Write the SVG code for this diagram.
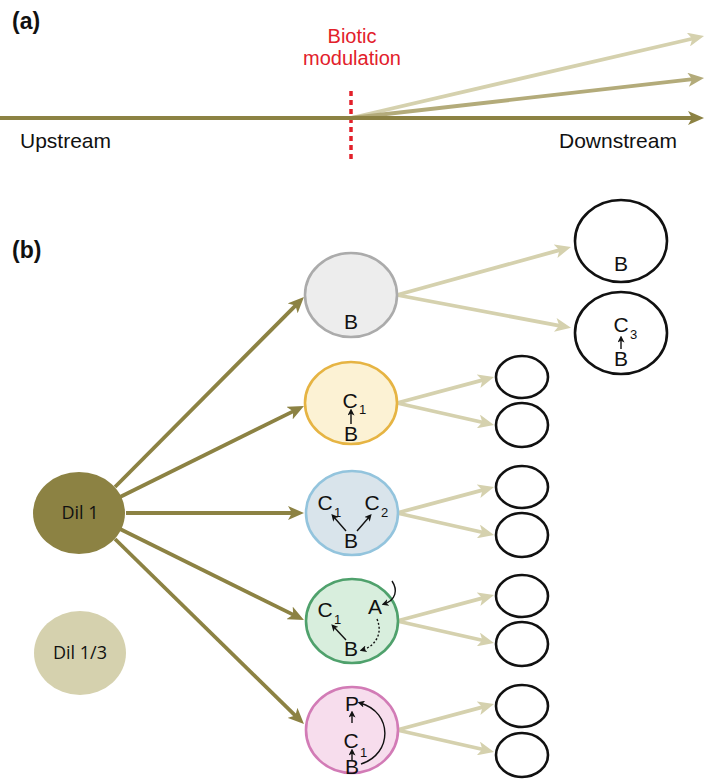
<svg xmlns="http://www.w3.org/2000/svg" width="709" height="780" viewBox="0 0 709 780">
<defs>
<style>
.lbl{font-family:"Liberation Sans",Arial,sans-serif;font-size:21px;fill:#111}
.pl{font-family:"Liberation Sans",Arial,sans-serif;font-size:23px;font-weight:bold;fill:#111}
.red{font-family:"Liberation Sans",Arial,sans-serif;font-size:20px;fill:#e2202a;text-anchor:middle}
.dil{font-family:"Open Sans","Noto Sans",sans-serif;font-size:18px;fill:#111;text-anchor:middle}
.l{font-family:"Liberation Sans",Arial,sans-serif;font-size:21px;fill:#111;text-anchor:middle}
.s{font-family:"Liberation Sans",Arial,sans-serif;font-size:13px;fill:#111}
.dk{stroke:#8c8243;stroke-width:3.8;fill:none}
.lt{stroke:#d5d1ae;stroke-width:3.8;fill:none}
.md{stroke:#b3ab7a;stroke-width:3.8;fill:none}
.ia{stroke:#111;stroke-width:1.4;fill:none}
.big{fill:#fff;stroke:#111;stroke-width:2.6}
</style>
<marker id="ahd" markerUnits="userSpaceOnUse" markerWidth="16" markerHeight="14" viewBox="0 0 16 14" refX="5" refY="7" orient="auto"><path d="M0,0 L16,7 L0,14 L4,7 Z" fill="#8c8243"/></marker>
<marker id="ahl" markerUnits="userSpaceOnUse" markerWidth="16" markerHeight="14" viewBox="0 0 16 14" refX="5" refY="7" orient="auto"><path d="M0,0 L16,7 L0,14 L4,7 Z" fill="#d5d1ae"/></marker>
<marker id="ahm" markerUnits="userSpaceOnUse" markerWidth="16" markerHeight="14" viewBox="0 0 16 14" refX="5" refY="7" orient="auto"><path d="M0,0 L16,7 L0,14 L4,7 Z" fill="#b3ab7a"/></marker>
<marker id="sa" markerUnits="userSpaceOnUse" markerWidth="7" markerHeight="7" viewBox="0 0 7 7" refX="4.5" refY="3.5" orient="auto"><path d="M0,0 L7,3.5 L0,7 L1.8,3.5 Z" fill="#111"/></marker>
</defs>
<rect width="709" height="780" fill="#fff"/>

<!-- Panel (a) -->
<g id="panel-a">
<text class="pl" x="12" y="29">(a)</text>
<text class="red" x="352" y="43">Biotic</text>
<text class="red" x="352" y="65">modulation</text>
<line x1="351" y1="91" x2="351" y2="163" stroke="#e2202a" stroke-width="3.5" stroke-dasharray="5 4"/>
<text class="lbl" x="20" y="148">Upstream</text>
<text class="lbl" x="559" y="148">Downstream</text>
</g>
<g id="connectors-a">
<line class="lt" x1="351" y1="118" x2="693.3" y2="38.5" marker-end="url(#ahl)"/>
<line class="md" x1="351" y1="118" x2="693.1" y2="79.2" marker-end="url(#ahm)"/>
<line class="dk" x1="0" y1="118" x2="693" y2="118" marker-end="url(#ahd)"/>
</g>

<!-- Panel (b) -->
<text class="pl" x="12" y="258">(b)</text>
<g id="connectors">
<line class="dk" x1="115" y1="487" x2="296.2" y2="304.8" marker-end="url(#ahd)"/>
<line class="dk" x1="120" y1="497" x2="294.1" y2="410.9" marker-end="url(#ahd)"/>
<line class="dk" x1="126" y1="513" x2="293" y2="513" marker-end="url(#ahd)"/>
<line class="dk" x1="120" y1="529" x2="294.1" y2="615.1" marker-end="url(#ahd)"/>
<line class="dk" x1="115" y1="539" x2="296.1" y2="716.3" marker-end="url(#ahd)"/>

<line class="lt" x1="397" y1="295" x2="560.4" y2="249.9" marker-end="url(#ahl)"/>
<line class="lt" x1="397" y1="295" x2="560.2" y2="325.8" marker-end="url(#ahl)"/>

<line class="lt" x1="397" y1="403" x2="483.4" y2="379.9" marker-end="url(#ahl)"/>
<line class="lt" x1="397" y1="403" x2="483.3" y2="422.5" marker-end="url(#ahl)"/>
<line class="lt" x1="397" y1="513" x2="483.4" y2="489.9" marker-end="url(#ahl)"/>
<line class="lt" x1="397" y1="513" x2="483.3" y2="532.5" marker-end="url(#ahl)"/>
<line class="lt" x1="397" y1="621" x2="483.4" y2="597.9" marker-end="url(#ahl)"/>
<line class="lt" x1="397" y1="621" x2="483.3" y2="640.5" marker-end="url(#ahl)"/>
<line class="lt" x1="397" y1="730" x2="483.4" y2="706.9" marker-end="url(#ahl)"/>
<line class="lt" x1="397" y1="730" x2="483.3" y2="749.5" marker-end="url(#ahl)"/>
</g>

<g id="dil1">
<ellipse cx="79" cy="513" rx="46" ry="41" fill="#8c8243"/>
<text class="dil" x="80" y="519">Dil 1</text>
</g>
<g id="dil13">
<ellipse cx="80" cy="653" rx="46" ry="42" fill="#d5d1ae"/>
<text class="dil" x="80" y="659">Dil 1/3</text>
</g>

<g id="node-gray">
<ellipse cx="351" cy="295" rx="46" ry="42" fill="#ededed" stroke="#ababab" stroke-width="2.6"/>
<text class="l" x="351" y="329">B</text>
</g>

<g id="node-yellow">
<ellipse cx="351" cy="403" rx="46" ry="41" fill="#fcf2d4" stroke="#e6b443" stroke-width="2.6"/>
<text class="l" x="350" y="408">C</text>
<text class="s" x="359" y="414">1</text>
<line class="ia" x1="351" y1="424" x2="351" y2="411" marker-end="url(#sa)"/>
<text class="l" x="351" y="441">B</text>
</g>

<g id="node-blue">
<ellipse cx="352" cy="513" rx="46" ry="42" fill="#d9e4eb" stroke="#93c4dd" stroke-width="2.6"/>
<text class="l" x="325" y="510">C</text>
<text class="s" x="334" y="517">1</text>
<text class="l" x="372" y="510">C</text>
<text class="s" x="381" y="517">2</text>
<line class="ia" x1="346" y1="531" x2="333" y2="516" marker-end="url(#sa)"/>
<line class="ia" x1="357" y1="531" x2="370" y2="516" marker-end="url(#sa)"/>
<text class="l" x="351" y="548">B</text>
</g>

<g id="node-green">
<ellipse cx="352" cy="621" rx="46" ry="42" fill="#d8eedd" stroke="#4fa16c" stroke-width="2.6"/>
<text class="l" x="325" y="617">C</text>
<text class="s" x="334" y="624">1</text>
<text class="l" x="375" y="614">A</text>
<text class="l" x="351" y="656">B</text>
<line class="ia" x1="346" y1="640" x2="333" y2="626" marker-end="url(#sa)"/>
<path class="ia" d="M392,581 C398,590 396,600 384,604" marker-end="url(#sa)"/>
<path class="ia" d="M377,619 C383,633 376,646 362,650" stroke-dasharray="2 2" marker-end="url(#sa)"/>
</g>

<g id="node-pink">
<ellipse cx="352" cy="730" rx="46" ry="43" fill="#f7dded" stroke="#d27bb6" stroke-width="2.6"/>
<text class="l" x="352" y="711">P</text>
<line class="ia" x1="352" y1="723" x2="352" y2="713" marker-end="url(#sa)"/>
<text class="l" x="351" y="748">C</text>
<text class="s" x="360" y="757">1</text>
<line class="ia" x1="352" y1="760" x2="352" y2="751" marker-end="url(#sa)"/>
<text class="l" x="352" y="774">B</text>
<path class="ia" d="M361,764 C393,754 393,712 360,703" marker-end="url(#sa)"/>
</g>

<g id="out-gray-1">
<ellipse class="big" cx="621" cy="241" rx="46" ry="41"/>
<text class="l" x="621" y="271">B</text>
</g>
<g id="out-gray-2">
<ellipse class="big" cx="621" cy="333" rx="46" ry="41"/>
<text class="l" x="621" y="332">C</text>
<text class="s" x="630" y="339">3</text>
<line class="ia" x1="621" y1="349" x2="621" y2="338" marker-end="url(#sa)"/>
<text class="l" x="621" y="366">B</text>
</g>

<g id="out-small">
<ellipse class="big" cx="522" cy="377" rx="26" ry="21"/>
<ellipse class="big" cx="522" cy="425" rx="26" ry="22"/>
<ellipse class="big" cx="522" cy="487" rx="26" ry="21"/>
<ellipse class="big" cx="522" cy="535" rx="26" ry="22"/>
<ellipse class="big" cx="522" cy="596" rx="26" ry="21"/>
<ellipse class="big" cx="522" cy="644" rx="26" ry="22"/>
<ellipse class="big" cx="522" cy="706" rx="26" ry="21"/>
<ellipse class="big" cx="522" cy="755" rx="26" ry="22"/>
</g>
</svg>
